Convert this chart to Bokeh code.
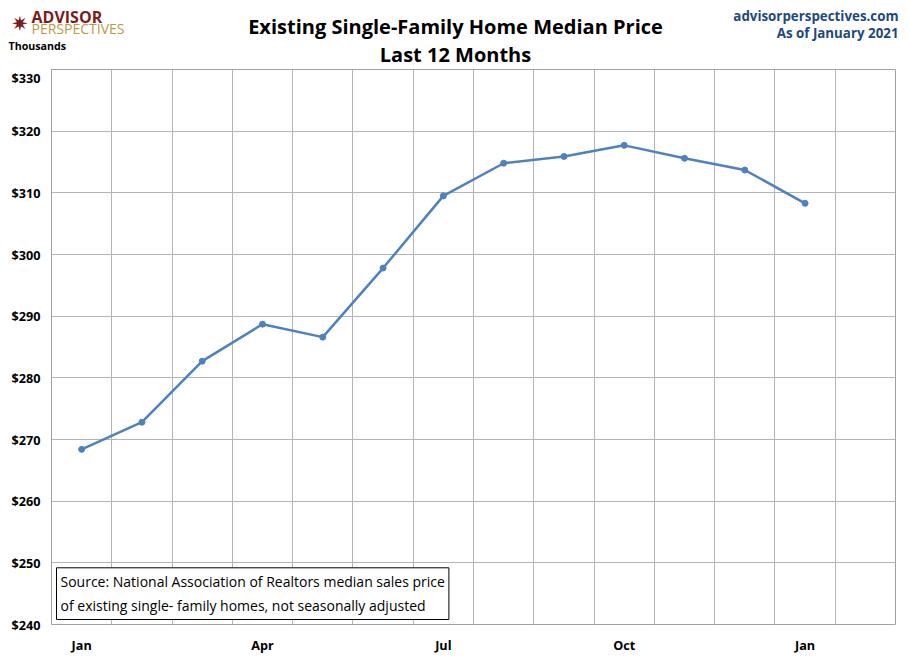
from bokeh.plotting import figure
from bokeh.layouts import column
from bokeh.models import FixedTicker, Label, Range1d, ColumnDataSource
from bokeh.embed import file_html
from bokeh.resources import INLINE

months = ["Jan", "Feb", "Mar", "Apr", "May", "Jun", "Jul", "Aug", "Sep", "Oct", "Nov", "Dec", "Jan"]
prices = [268.4, 272.8, 282.7, 288.7, 286.6, 297.8, 309.5, 314.8, 315.9, 317.7, 315.6, 313.7, 308.3]
y_ticks = [240, 250, 260, 270, 280, 290, 300, 310, 320, 330]

xs = [i + 0.5 for i in range(len(months))]
src = ColumnDataSource(data=dict(x=xs, y=prices))

# header strip with titles and logo
h = figure(width=902, height=68, output_backend="svg", toolbar_location=None,
           x_range=Range1d(0, 902), y_range=Range1d(0, 68),
           min_border=0, outline_line_color=None)
h.axis.visible = False
h.grid.visible = False
h.frame_align = False

def lab(x, y, text, **kw):
    opts = dict(text_font="Open Sans", text_baseline="middle", text_color="black")
    opts.update(kw)
    h.add_layout(Label(x=x, y=y, text=text, **opts))

lab(455, 42, "Existing Single-Family Home Median Price", text_align="center", text_font_size="15pt", text_font_style="bold")
lab(455, 14, "Last 12 Months", text_align="center", text_font_size="15pt", text_font_style="bold")
lab(31, 52, "ADVISOR", text_font_size="12pt", text_font_style="bold", text_color="#7b1c1c")
lab(31, 40, "PERSPECTIVES", text_font_size="10.5pt", text_color="#b89a4a")
lab(10, 46, "✷", text_font_size="16pt", text_color="#7b1c1c")
lab(8, 23, "Thousands", text_font_size="8pt", text_font_style="bold")
lab(898, 53, "advisorperspectives.com", text_align="right", text_font_size="10pt", text_font_style="bold", text_color="#1f497d")
lab(898, 36, "As of January 2021", text_align="right", text_font_size="10pt", text_font_style="bold", text_color="#1f497d")

p = figure(width=902, height=588, output_backend="svg", toolbar_location=None,
           x_range=Range1d(0, 14), y_range=Range1d(240, 330),
           min_border_left=51, min_border_right=7, min_border_top=1, min_border_bottom=32)
p.outline_line_color = "#a0a0a0"
p.border_fill_color = "white"
p.frame_align = False

p.line("x", "y", source=src, line_color="#4f81bd", line_width=2.5)
p.scatter("x", "y", source=src, size=6, color="#4f81bd")

p.xaxis.ticker = FixedTicker(ticks=[0.5, 3.5, 6.5, 9.5, 12.5])
p.xaxis.major_label_overrides = {0.5: "Jan", 3.5: "Apr", 6.5: "Jul", 9.5: "Oct", 12.5: "Jan"}
p.xgrid.ticker = FixedTicker(ticks=list(range(15)))
p.yaxis.ticker = FixedTicker(ticks=y_ticks)
p.yaxis.major_label_overrides = {v: "$%d" % v for v in y_ticks}
for ax in (p.xaxis[0], p.yaxis[0]):
    ax.axis_line_color = None
    ax.major_tick_line_color = None
    ax.minor_tick_line_color = None
    ax.major_label_text_font = "Open Sans"
    ax.major_label_text_font_style = "bold"
    ax.major_label_text_font_size = "9.5pt"
    ax.major_label_text_color = "black"
p.grid.grid_line_color = "#b4b4b4"
p.grid.grid_line_alpha = 1

p.add_layout(Label(x=5, y=5, x_units="screen", y_units="screen",
                   text="Source: National Association of Realtors median sales price\nof existing single- family homes, not seasonally adjusted",
                   text_font="Open Sans", text_font_size="10.5pt", text_line_height=1.3, text_color="black",
                   background_fill_color="white", border_line_color="black", border_line_width=1,
                   padding=4))

layout = column(h, p, spacing=0)
open("out.html", "w").write(file_html(layout, INLINE))
